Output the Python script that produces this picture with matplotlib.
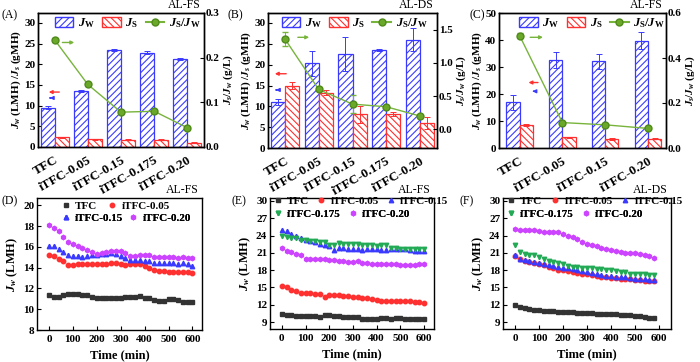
import numpy as np
import matplotlib.pyplot as plt
from matplotlib.lines import Line2D
from matplotlib.patches import Patch

plt.rcParams['font.family'] = ['Liberation Serif', 'DejaVu Serif']
plt.rcParams['font.weight'] = 'bold'
plt.rcParams['axes.labelweight'] = 'bold'
plt.rcParams['font.size'] = 8
plt.rcParams['mathtext.fontset'] = 'custom'
plt.rcParams['mathtext.rm'] = 'Liberation Serif:bold'
plt.rcParams['mathtext.it'] = 'Liberation Serif:italic:bold'
plt.rcParams['mathtext.bf'] = 'Liberation Serif:bold'
plt.rcParams['hatch.linewidth'] = 0.8
plt.rcParams['xtick.direction'] = 'in'
plt.rcParams['ytick.direction'] = 'in'
plt.rcParams['axes.linewidth'] = 1.0
plt.rcParams['xtick.major.size'] = 3
plt.rcParams['ytick.major.size'] = 3
plt.rcParams['ytick.major.pad'] = 2

BLUE = '#3a3aff'
RED = '#ff3030'
GREEN = '#78b43c'

# ---- top row: flux bars ----
cats_ab = ["TFC", "iTFC-0.05", "iTFC-0.15", "iTFC-0.175", "iTFC-0.20"]
cats_c = ["TFC", "iTFC-0.05", "iTFC-0.15", "iTFC-0.20"]

a_jw = [9.5, 13.5, 23.5, 22.8, 21.3]
a_jw_err = [0.3, 0.2, 0.3, 0.4, 0.2]
a_js = [2.3, 1.9, 1.8, 1.8, 1.0]
a_js_err = [0.1, 0.1, 0.1, 0.1, 0.1]
a_ratio = [0.240, 0.140, 0.078, 0.080, 0.043]
a_ratio_err = [0.005, 0.003, 0.002, 0.003, 0.002]

b_jw = [11.0, 20.3, 22.6, 23.5, 26.0]
b_jw_err = [0.7, 3.0, 4.0, 0.2, 2.8]
b_js = [15.0, 13.3, 8.1, 8.2, 6.0]
b_js_err = [0.8, 0.6, 2.0, 0.4, 1.4]
b_ratio = [1.36, 0.60, 0.38, 0.34, 0.20]
b_ratio_err = [0.10, 0.03, 0.14, 0.02, 0.02]

c_jw = [17.0, 32.5, 32.2, 39.8]
c_jw_err = [2.8, 3.0, 2.8, 3.3]
c_js = [8.6, 3.9, 3.4, 3.5]
c_js_err = [0.3, 0.3, 0.4, 0.3]
c_ratio = [0.50, 0.113, 0.103, 0.087]
c_ratio_err = [0.01, 0.004, 0.004, 0.004]

# ---- bottom row: flux vs time ----
t_31 = list(range(0, 601, 20))
t_30 = list(range(0, 581, 20))

d_tfc = [11.35, 11.2, 11.2, 11.35, 11.5, 11.5, 11.45, 11.4, 11.35, 11.2, 11.05, 11.05, 11.1, 11.1, 11.1, 11.1,
         11.15, 11.2, 11.2, 11.25, 11.1, 11.05, 10.9, 10.8, 10.8, 10.95, 10.95, 10.9, 10.7, 10.7, 10.7]
d_005 = [15.2, 15.1, 14.8, 14.6, 14.3, 14.3, 14.35, 14.35, 14.35, 14.35, 14.35, 14.35, 14.35, 14.4, 14.4, 14.35,
         14.3, 14.35, 14.35, 14.35, 14.2, 14.0, 13.8, 13.7, 13.65, 13.6, 13.6, 13.6, 13.6, 13.6, 13.45]
d_015 = [16.1, 16.1, 15.8, 15.5, 15.2, 15.1, 15.1, 15.05, 15.1, 15.2, 15.2, 15.3, 15.35, 15.4, 15.3, 15.1,
         14.95, 14.75, 14.7, 14.7, 14.65, 14.6, 14.45, 14.45, 14.45, 14.45, 14.45, 14.35, 14.45, 14.35, 14.2]
d_020 = [18.1, 17.8, 17.5, 16.9, 16.5, 16.25, 16.1, 15.9, 15.65, 15.5, 15.35, 15.4, 15.5, 15.6, 15.6, 15.6,
         15.4, 15.15, 15.15, 15.2, 15.25, 15.2, 15.0, 15.0, 15.0, 15.0, 15.0, 14.95, 15.0, 14.9, 14.9]

e_tfc = [10.35, 10.3, 10.15, 10.1, 10.05, 10.05, 10.0, 10.0, 9.95, 10.15, 10.15, 10.0, 10.0, 9.95, 9.95, 9.9,
         9.85, 9.45, 9.45, 9.5, 9.6, 9.7, 9.65, 9.55, 9.7, 9.75, 9.5, 9.5, 9.5, 9.5, 9.45]
e_005 = [15.3, 15.0, 14.5, 14.3, 14.1, 14.0, 14.0, 13.95, 13.85, 13.35, 13.7, 13.7, 13.65, 13.6, 13.5, 13.4,
         13.35, 13.25, 13.15, 13.05, 12.9, 12.7, 12.7, 12.7, 12.65, 12.6, 12.6, 12.7, 12.4, 12.4, 12.35]
e_015 = [24.9, 24.7, 24.2, 23.9, 23.6, 23.2, 23.0, 22.9, 22.6, 22.4, 22.2, 21.5, 21.9, 21.8, 21.6, 21.6,
         21.6, 21.5, 21.6, 21.6, 21.7, 21.5, 21.5, 21.7, 21.7, 21.7, 21.6, 21.5, 21.4, 21.4, 21.3]
e_0175 = [23.9, 23.7, 23.6, 23.5, 23.3, 23.2, 23.1, 23.0, 22.8, 22.8, 22.3, 22.4, 22.7, 22.6, 22.6, 22.5,
          22.6, 22.4, 22.3, 22.3, 22.2, 22.3, 22.3, 21.9, 21.8, 21.7, 21.6, 21.6, 21.6, 21.6, 21.7]
e_020 = [21.8, 21.4, 21.1, 20.8, 20.6, 20.0, 20.0, 20.0, 20.0, 19.9, 19.8, 19.75, 19.6, 19.5, 19.45, 19.4,
         19.5, 19.3, 19.2, 19.15, 19.1, 19.1, 19.1, 19.05, 19.05, 18.95, 18.85, 18.85, 18.85, 19.0, 19.1]

f_tfc = [12.0, 11.6, 11.4, 11.3, 11.1, 11.05, 11.0, 10.95, 10.9, 10.75, 10.7, 10.75, 10.7, 10.65, 10.6,
         10.55, 10.5, 10.45, 10.4, 10.4, 10.4, 10.35, 10.3, 10.2, 10.2, 10.1, 10.0, 9.9, 9.75, 9.7]
f_005 = [20.5, 19.9, 19.6, 19.45, 19.3, 19.1, 18.9, 18.6, 18.3, 18.1, 18.0, 17.9, 17.7, 17.5, 17.4,
         17.3, 17.1, 16.95, 16.8, 16.75, 16.7, 16.65, 16.55, 16.5, 16.45, 16.3, 16.3, 16.2, 16.2, 16.1]
f_015 = [20.6, 20.0, 19.7, 19.6, 19.45, 19.3, 19.1, 18.9, 18.7, 18.6, 18.45, 18.3, 18.2, 18.0, 17.85,
         17.6, 17.45, 17.3, 17.1, 17.0, 16.9, 16.85, 16.8, 16.8, 16.7, 16.5, 16.5, 16.45, 16.3, 16.25]
f_0175 = [22.4, 21.2, 20.8, 20.7, 20.6, 20.2, 19.9, 19.6, 19.4, 19.2, 19.1, 18.8, 18.6, 18.5, 18.45,
          18.3, 18.3, 18.25, 18.2, 18.1, 18.0, 17.8, 17.7, 17.6, 17.4, 17.3, 17.3, 17.25, 17.2, 17.2]
f_020 = [25.1, 25.0, 25.0, 25.0, 24.9, 24.8, 24.6, 24.6, 24.6, 24.6, 24.3, 24.0, 23.8, 23.4, 22.9,
         22.6, 22.4, 22.2, 21.9, 21.7, 21.5, 21.3, 21.1, 20.9, 20.9, 20.9, 20.8, 20.6, 20.4, 20.1]

W, H = 700, 362
fig = plt.figure(figsize=(7, 3.62), dpi=100)


def px_axes(l, r, t, b):
    return fig.add_axes([l / W, 1 - b / H, (r - l) / W, (b - t) / H])


def bar_panel(ax, cats, jw, jw_err, js, js_err, ratio, ratio_err, ltop, lstep, rlim, rticks,
              width, xlim, arrows, leg_x):
    x = np.arange(len(cats))
    ax.bar(x - width / 2, jw, width, color='white', edgecolor=BLUE, hatch='/////', lw=0.9, zorder=2)
    ax.bar(x + width / 2, js, width, color='white', edgecolor=RED, hatch='\\\\\\\\\\', lw=0.9, zorder=2)
    ax.errorbar(x - width / 2, jw, yerr=jw_err, fmt='none', ecolor=BLUE, elinewidth=0.7, capsize=2, capthick=0.7, zorder=3)
    ax.errorbar(x + width / 2, js, yerr=js_err, fmt='none', ecolor=RED, elinewidth=0.7, capsize=2, capthick=0.7, zorder=3)
    ax.set_xlim(*xlim)
    ax.set_ylim(0, ltop)
    ax.set_yticks(np.arange(0, ltop, lstep))
    ax.set_xticks(x)
    ax.set_xticklabels(cats, rotation=30, ha='right', rotation_mode='anchor', fontsize=9.5)
    ax.tick_params(axis='x', length=0, pad=5)
    ax.set_ylabel(r'$J_w$ (LMH) /$J_s$ (gMH)', labelpad=1)
    ax2 = ax.twinx()
    ax2.errorbar(x, ratio, yerr=ratio_err, color=GREEN, marker='o', ms=5, mfc='#6aa82a', mec='#4f8a1a',
                 lw=1.0, elinewidth=0.7, capsize=2, zorder=4)
    ax2.set_ylim(*rlim)
    ax2.set_yticks(rticks)
    ax2.tick_params(axis='y', pad=1.5)
    ax2.set_ylabel(r'$J_s/J_w$ (g/L)', labelpad=1)
    for (x0, x1, y, c) in arrows:
        ax.annotate('', xy=(x1, y), xytext=(x0, y), xycoords='axes fraction',
                    arrowprops=dict(arrowstyle='-|>', color=c, lw=1.0, mutation_scale=5))
    handles = [Patch(facecolor='white', edgecolor=BLUE, hatch='/////'),
               Patch(facecolor='white', edgecolor=RED, hatch='\\\\\\\\\\'),
               Line2D([], [], color=GREEN, marker='o', ms=5, mfc='#6aa82a', mec='#4f8a1a')]
    ax.legend(handles, [r'$J_\mathrm{W}$', r'$J_\mathrm{S}$', r'$J_\mathrm{S}/J_\mathrm{W}$'],
              ncol=3, loc='upper left', bbox_to_anchor=(leg_x, 0.975), frameon=False,
              borderpad=0, borderaxespad=0,
              handlelength=1.5, handleheight=0.9, columnspacing=0.6, handletextpad=0.35,
              fontsize=9)
    return ax2


ax_a = px_axes(38, 204, 13, 147)
bar_panel(ax_a, cats_ab, a_jw, a_jw_err, a_js, a_js_err, a_ratio, a_ratio_err, 32.4, 5,
          (0, 0.3), [0.0, 0.1, 0.2, 0.3], 0.42, (-0.5, 4.5),
          [(0.145, 0.048, 0.41, RED), (0.09, 0.054, 0.366, BLUE), (0.13, 0.235, 0.78, GREEN)], 0.1)

ax_b = px_axes(268, 437, 13, 148)
bar_panel(ax_b, cats_ab, b_jw, b_jw_err, b_js, b_js_err, b_ratio, b_ratio_err, 32.4, 5,
          (-0.28, 1.75), [0.0, 0.5, 1.0, 1.5], 0.42, (-0.5, 4.5),
          [(0.124, 0.024, 0.55, RED), (0.065, 0.03, 0.43, BLUE), (0.16, 0.26, 0.82, GREEN)], 0.08)

ax_c = px_axes(499, 666, 13, 148)
bar_panel(ax_c, cats_c, c_jw, c_jw_err, c_js, c_js_err, c_ratio, c_ratio_err, 50.001, 10,
          (0, 0.6), [0.0, 0.2, 0.4, 0.6], 0.31, (-0.48, 3.42),
          [(0.25, 0.16, 0.485, RED), (0.23, 0.2, 0.42, BLUE), (0.17, 0.28, 0.82, GREEN)], 0.12)


def time_panel(ax, series, ylim, yticks, xlim, rows):
    for t, y, lab, m, c in series:
        ax.plot(t, y, ls='none', marker=m, ms=3.2, color=c, mec=c, label=lab)
    ax.set_xlim(*xlim)
    ax.set_ylim(*ylim)
    ax.set_yticks(yticks)
    ax.set_xticks(range(0, 601, 100))
    ax.set_xlabel('Time (min)', labelpad=4, fontsize=9)
    ax.set_ylabel(r'$J_w$ (LMH)', labelpad=2, fontsize=9)
    h, l = ax.get_legend_handles_labels()
    # Origin-style legend: each row laid out on its own
    for idx, x0, y0, cs in rows:
        leg = ax.legend([h[i] for i in idx], [l[i] for i in idx], ncol=len(idx), loc='upper left',
                        bbox_to_anchor=(x0, y0), frameon=False, borderpad=0, borderaxespad=0,
                        handlelength=0.8, handletextpad=0.45, columnspacing=cs, fontsize=8)
        ax.add_artist(leg)


GRAY = '#333333'
VIOLET = '#cc44ff'
TGREEN = '#22aa55'

ax_d = px_axes(37, 202, 198, 330)
time_panel(ax_d, [(t_31, d_tfc, 'TFC', 's', GRAY), (t_31, d_005, 'iTFC-0.05', 'o', RED),
                  (t_31, d_015, 'iTFC-0.15', '^', BLUE), (t_31, d_020, 'iTFC-0.20', 'h', VIOLET)],
           (8, 20.7), range(8, 21, 2), (-50, 640),
           [([0, 1], 0.147, 0.975, 0.95), ([2, 3], 0.147, 0.885, 0.5)])

ax_e = px_axes(270, 434, 198, 329)
time_panel(ax_e, [(t_31, e_tfc, 'TFC', 's', GRAY), (t_31, e_005, 'iTFC-0.05', 'o', RED),
                  (t_31, e_015, 'iTFC-0.15', '^', BLUE), (t_31, e_0175, 'iTFC-0.175', 'v', TGREEN),
                  (t_31, e_020, 'iTFC-0.20', 'h', VIOLET)],
           (7.8, 30.5), range(9, 31, 3), (-50, 642),
           [([0, 1, 2], 0.02, 1.012, 0.66), ([3, 4], 0.02, 0.918, 0.66)])

ax_f = px_axes(503, 671, 198, 329)
time_panel(ax_f, [(t_30, f_tfc, 'TFC', 's', GRAY), (t_30, f_005, 'iTFC-0.05', 'o', RED),
                  (t_30, f_015, 'iTFC-0.15', '^', BLUE), (t_30, f_0175, 'iTFC-0.175', 'v', TGREEN),
                  (t_30, f_020, 'iTFC-0.20', 'h', VIOLET)],
           (7.8, 30.5), range(9, 31, 3), (-50, 650),
           [([0, 1, 2], 0.02, 1.012, 0.72), ([3, 4], 0.02, 0.918, 0.66)])

# titles and panel letters
for ax, txt in [(ax_a, 'AL-FS'), (ax_b, 'AL-DS'), (ax_c, 'AL-FS'),
                (ax_d, 'AL-FS'), (ax_e, 'AL-FS'), (ax_f, 'AL-DS')]:
    ax.text(0.98, 1.015, txt, transform=ax.transAxes, ha='right', va='bottom', fontweight='normal', fontsize=8.5)

for x, y, txt in [(2, 15, '(A)'), (228, 15, '(B)'), (470, 15, '(C)'),
                  (2, 201, '(D)'), (231, 201, '(E)'), (460, 201, '(F)')]:
    fig.text(x / W, 1 - y / H, txt, ha='left', va='center', fontweight='normal', fontsize=8.5)

fig.savefig('out.png', dpi=100)
